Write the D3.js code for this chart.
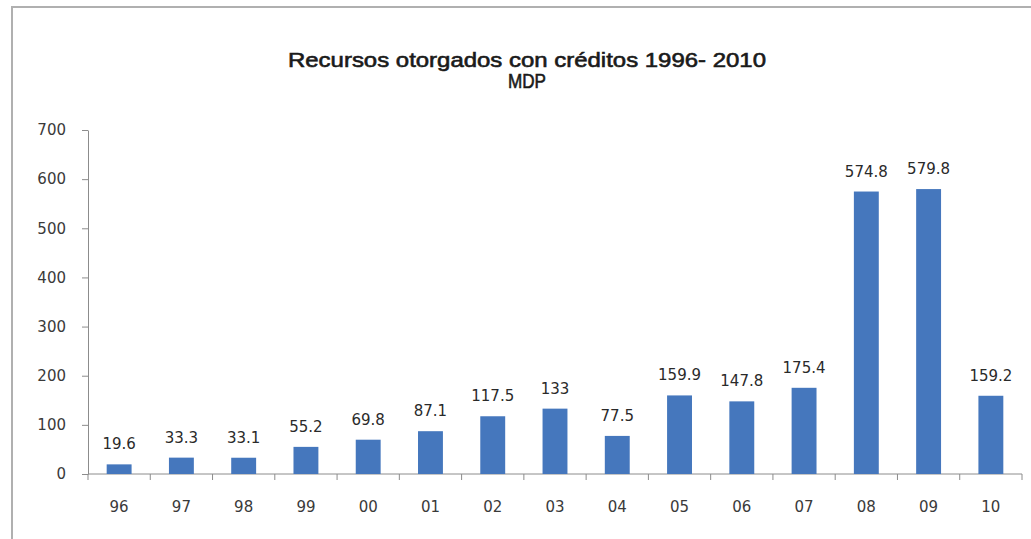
<!DOCTYPE html>
<html>
<head>
<meta charset="utf-8">
<script src="https://cdn.jsdelivr.net/npm/d3@7"></script>
<style>
  body { margin: 0; background: #fff; }
  text { font-family: "DejaVu Sans", sans-serif; }
</style>
</head>
<body>
<div id="canvas"></div>
<script>
var years = ["96", "97", "98", "99", "00", "01", "02", "03", "04", "05", "06", "07", "08", "09", "10"];
var amounts = [19.6, 33.3, 33.1, 55.2, 69.8, 87.1, 117.5, 133, 77.5, 159.9, 147.8, 175.4, 574.8, 579.8, 159.2];
var yTicks = [0, 100, 200, 300, 400, 500, 600, 700];
var titleLines = ["Recursos  otorgados  con  créditos  1996-  2010", "MDP"];

var width = 1031, height = 539;
var plot = { left: 88, right: 1022, top: 130, bottom: 474 };

var svg = d3.select("#canvas").append("svg").attr("width", width).attr("height", height);

// outer frame (only top and left edges show)
svg.append("path")
  .attr("d", "M12,540 L12,7 L1031,7")
  .attr("fill", "none")
  .attr("stroke", "#b0b0b0")
  .attr("stroke-width", 2);

var x = d3.scaleBand().domain(years).range([plot.left, plot.right]).paddingInner(0.6).paddingOuter(0.3);
var y = d3.scaleLinear().domain([0, 700]).range([plot.bottom, plot.top]);

// title
svg.append("g").selectAll("text")
  .data(titleLines)
  .enter()
  .append("text")
  .attr("x", 527)
  .attr("y", (d, i) => 67 + i * 21)
  .attr("text-anchor", "middle")
  .style("font-family", "'Liberation Sans', Arial, sans-serif")
  .style("font-size", "20px")
  .attr("fill", "#1a1a1a")
  .attr("stroke", "#1a1a1a")
  .attr("stroke-width", 0.6)
  .attr("textLength", (d, i) => i == 0 ? 478 : 38)
  .attr("lengthAdjust", "spacingAndGlyphs")
  .text(d => d);

// y axis
var yAxis = svg.append("g")
  .attr("transform", `translate(${plot.left},0)`)
  .call(d3.axisLeft(y).tickValues(yTicks).tickSize(6).tickPadding(16).tickSizeOuter(0));
yAxis.select(".domain").attr("stroke", "#8c8c8c");
yAxis.selectAll(".tick line").attr("stroke", "#8c8c8c");
yAxis.selectAll(".tick text")
  .style("font-family", "'DejaVu Sans', sans-serif")
  .style("font-size", "15px")
  .attr("fill", "#3a3a3a");

// x axis, ticks on the category boundaries
var xAxisG = svg.append("g").attr("transform", `translate(0,${plot.bottom})`);
xAxisG.append("line")
  .attr("x1", plot.left).attr("x2", plot.right)
  .attr("stroke", "#8c8c8c");
xAxisG.selectAll("line.tick")
  .data(d3.range(years.length + 1))
  .enter()
  .append("line")
  .attr("class", "tick")
  .attr("x1", i => plot.left + i * x.step())
  .attr("x2", i => plot.left + i * x.step())
  .attr("y1", 0).attr("y2", 6)
  .attr("stroke", "#8c8c8c");
xAxisG.selectAll("text")
  .data(years)
  .enter()
  .append("text")
  .attr("x", d => x(d) + x.bandwidth() / 2)
  .attr("y", 38)
  .attr("text-anchor", "middle")
  .style("font-size", "15px")
  .attr("fill", "#3a3a3a")
  .text(d => d);

// bars
svg.append("g").selectAll("rect")
  .data(amounts)
  .enter()
  .append("rect")
  .attr("x", (d, i) => x(years[i]))
  .attr("width", x.bandwidth())
  .attr("y", d => y(d))
  .attr("height", d => y(0) - y(d))
  .attr("fill", "#4577bd");

// data labels
svg.append("g").selectAll("text")
  .data(amounts)
  .enter()
  .append("text")
  .attr("x", (d, i) => x(years[i]) + x.bandwidth() / 2)
  .attr("y", d => y(d) - 15)
  .attr("text-anchor", "middle")
  .style("font-size", "15px")
  .attr("fill", "#2a2a2a")
  .text(d => d);
</script>
</body>
</html>
